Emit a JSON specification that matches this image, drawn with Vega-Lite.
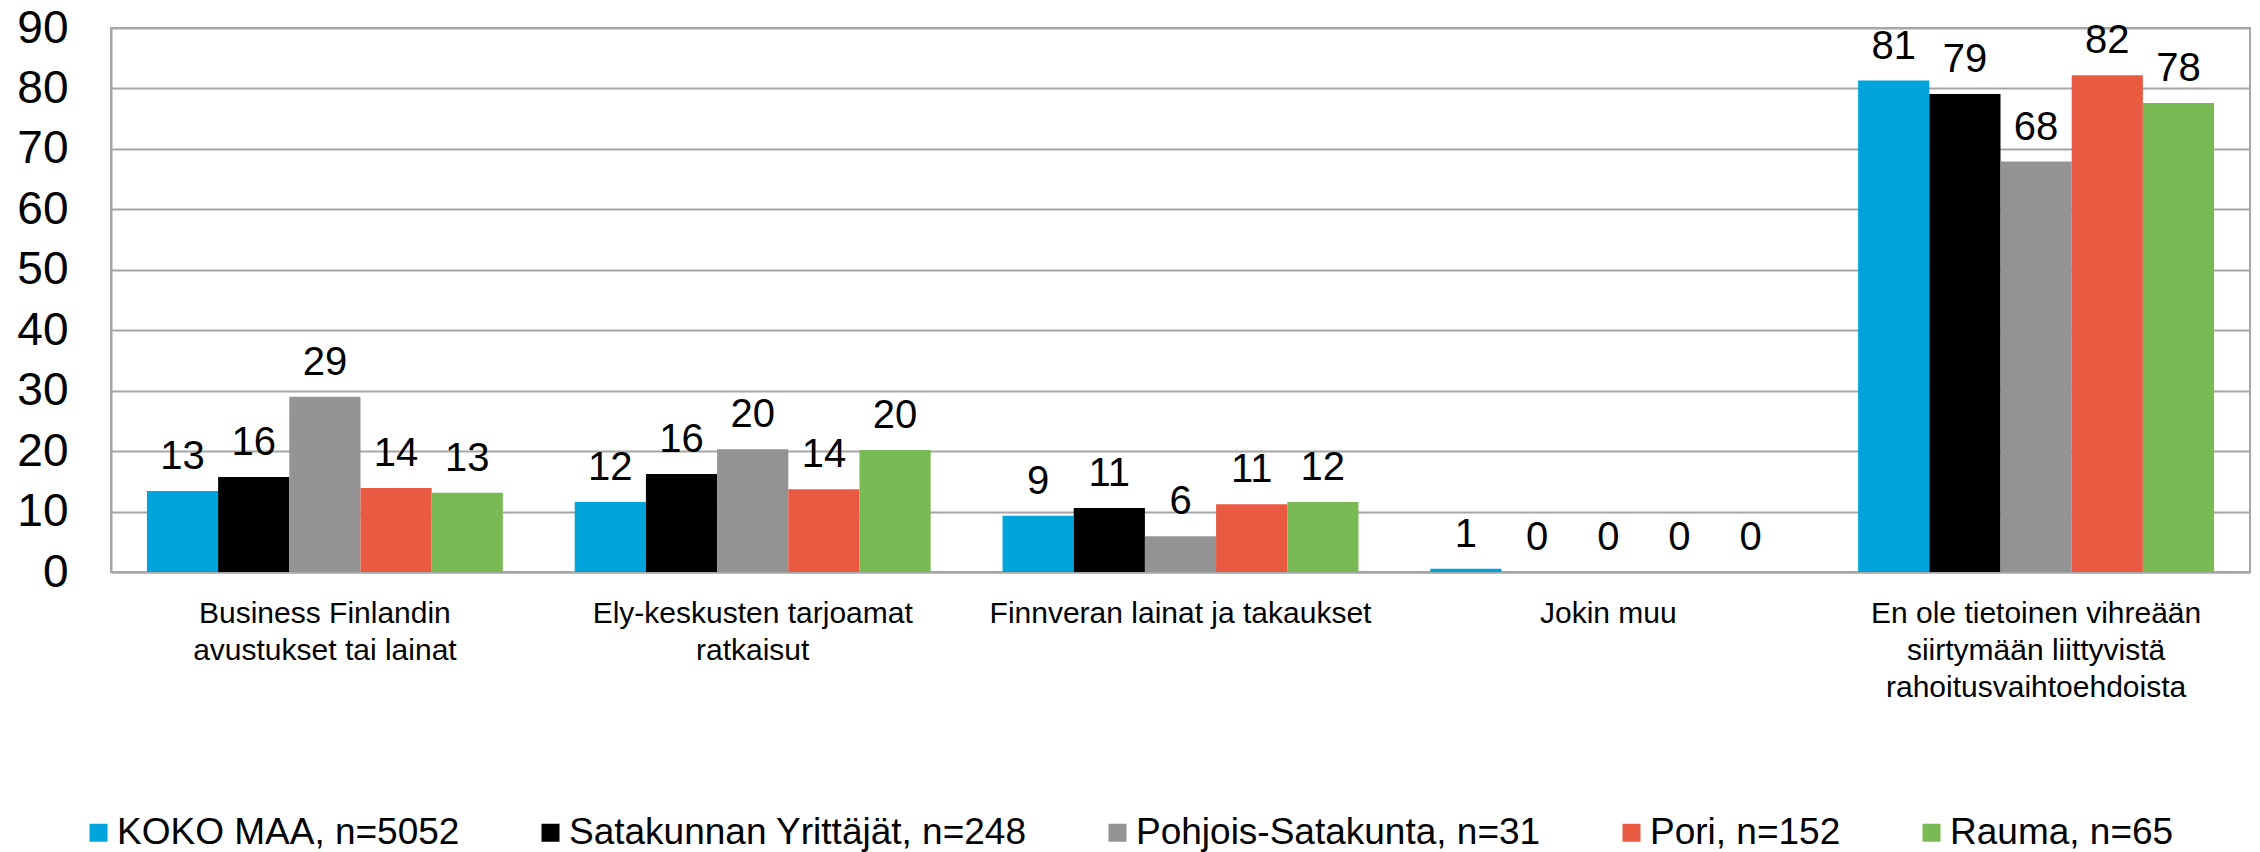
{
  "$schema": "https://vega.github.io/schema/vega-lite/v6.json",
  "autosize": "none",
  "width": 2139,
  "height": 544,
  "padding": {"left": 111, "top": 28, "right": 10, "bottom": 280},
  "background": "white",
  "config": {
    "font": "Liberation Sans",
    "view": {"stroke": "#a6a6a6", "strokeWidth": 2}
  },
  "data": {
    "values": [
      {"cat": "Business Finlandin avustukset tai lainat", "group": "KOKO MAA, n=5052", "value": 13.4},
      {"cat": "Business Finlandin avustukset tai lainat", "group": "Satakunnan Yrittäjät, n=248", "value": 15.7},
      {"cat": "Business Finlandin avustukset tai lainat", "group": "Pohjois-Satakunta, n=31", "value": 29.0},
      {"cat": "Business Finlandin avustukset tai lainat", "group": "Pori, n=152", "value": 13.9},
      {"cat": "Business Finlandin avustukset tai lainat", "group": "Rauma, n=65", "value": 13.1},
      {"cat": "Ely-keskusten tarjoamat ratkaisut", "group": "KOKO MAA, n=5052", "value": 11.6},
      {"cat": "Ely-keskusten tarjoamat ratkaisut", "group": "Satakunnan Yrittäjät, n=248", "value": 16.2},
      {"cat": "Ely-keskusten tarjoamat ratkaisut", "group": "Pohjois-Satakunta, n=31", "value": 20.3},
      {"cat": "Ely-keskusten tarjoamat ratkaisut", "group": "Pori, n=152", "value": 13.7},
      {"cat": "Ely-keskusten tarjoamat ratkaisut", "group": "Rauma, n=65", "value": 20.2},
      {"cat": "Finnveran lainat ja takaukset", "group": "KOKO MAA, n=5052", "value": 9.3},
      {"cat": "Finnveran lainat ja takaukset", "group": "Satakunnan Yrittäjät, n=248", "value": 10.6},
      {"cat": "Finnveran lainat ja takaukset", "group": "Pohjois-Satakunta, n=31", "value": 5.9},
      {"cat": "Finnveran lainat ja takaukset", "group": "Pori, n=152", "value": 11.2},
      {"cat": "Finnveran lainat ja takaukset", "group": "Rauma, n=65", "value": 11.6},
      {"cat": "Jokin muu", "group": "KOKO MAA, n=5052", "value": 0.55},
      {"cat": "Jokin muu", "group": "Satakunnan Yrittäjät, n=248", "value": 0},
      {"cat": "Jokin muu", "group": "Pohjois-Satakunta, n=31", "value": 0},
      {"cat": "Jokin muu", "group": "Pori, n=152", "value": 0},
      {"cat": "Jokin muu", "group": "Rauma, n=65", "value": 0},
      {"cat": "En ole tietoinen vihreään siirtymään liittyvistä rahoitusvaihtoehdoista", "group": "KOKO MAA, n=5052", "value": 81.3},
      {"cat": "En ole tietoinen vihreään siirtymään liittyvistä rahoitusvaihtoehdoista", "group": "Satakunnan Yrittäjät, n=248", "value": 79.1},
      {"cat": "En ole tietoinen vihreään siirtymään liittyvistä rahoitusvaihtoehdoista", "group": "Pohjois-Satakunta, n=31", "value": 67.9},
      {"cat": "En ole tietoinen vihreään siirtymään liittyvistä rahoitusvaihtoehdoista", "group": "Pori, n=152", "value": 82.2},
      {"cat": "En ole tietoinen vihreään siirtymään liittyvistä rahoitusvaihtoehdoista", "group": "Rauma, n=65", "value": 77.6}
    ]
  },
  "encoding": {
    "x": {
      "field": "cat",
      "type": "nominal",
      "sort": null,
      "title": null,
      "scale": {"paddingInner": 0.168, "paddingOuter": 0.084},
      "axis": {
        "labelAngle": 0,
        "labelFontSize": 30,
        "labelColor": "#000000",
        "labelLineHeight": 37,
        "labelPadding": 26,
        "labelBaseline": "top",
        "ticks": false,
        "tickSize": 0,
        "domainColor": "#a6a6a6",
        "domainWidth": 2,
        "labelLimit": 0,
        "labelExpr": "datum.label == 'Business Finlandin avustukset tai lainat' ? ['Business Finlandin', 'avustukset tai lainat'] : datum.label == 'Ely-keskusten tarjoamat ratkaisut' ? ['Ely-keskusten tarjoamat', 'ratkaisut'] : datum.label == 'En ole tietoinen vihreään siirtymään liittyvistä rahoitusvaihtoehdoista' ? ['En ole tietoinen vihreään', 'siirtymään liittyvistä', 'rahoitusvaihtoehdoista'] : datum.label"
      }
    },
    "xOffset": {
      "field": "group",
      "type": "nominal",
      "sort": null,
      "scale": {"domain": ["KOKO MAA, n=5052", "Satakunnan Yrittäjät, n=248", "Pohjois-Satakunta, n=31", "Pori, n=152", "Rauma, n=65"], "paddingInner": 0, "paddingOuter": 0}
    },
    "y": {
      "field": "value",
      "type": "quantitative",
      "title": null,
      "scale": {"domain": [0, 90], "nice": false},
      "axis": {
        "values": [0, 10, 20, 30, 40, 50, 60, 70, 80, 90],
        "labelFontSize": 46,
        "labelColor": "#000000",
        "labelPadding": 43,
        "ticks": false,
        "tickSize": 0,
        "domainColor": "#a6a6a6",
        "domainWidth": 2,
        "grid": true,
        "gridColor": "#a6a6a6",
        "gridWidth": 2
      }
    }
  },
  "layer": [
    {
      "mark": {"type": "bar"},
      "encoding": {
        "color": {
          "field": "group",
          "type": "nominal",
          "scale": {
            "domain": ["KOKO MAA, n=5052", "Satakunnan Yrittäjät, n=248", "Pohjois-Satakunta, n=31", "Pori, n=152", "Rauma, n=65"],
            "range": ["#00a4da", "#000000", "#939393", "#e85a41", "#7aba54"]
          },
          "legend": {
            "title": null,
            "orient": "none",
            "direction": "horizontal",
            "legendX": -31,
            "legendY": 786,
            "symbolType": "square",
            "symbolSize": 324,
            "symbolStrokeWidth": 0,
            "labelFontSize": 37,
            "labelColor": "#000000",
            "labelOffset": 0,
            "columnPadding": 72,
            "labelLimit": 0
          }
        }
      }
    },
    {
      "mark": {"type": "text", "baseline": "alphabetic", "dy": -22, "fontSize": 40, "color": "#000000"},
      "encoding": {
        "text": {"field": "value", "type": "quantitative", "format": ".0f"}
      }
    }
  ]
}
